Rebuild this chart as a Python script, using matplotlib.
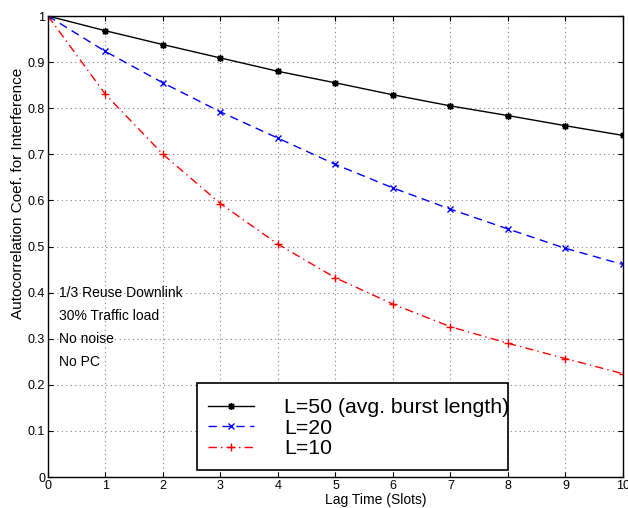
import matplotlib
matplotlib.use("Agg")
import matplotlib.pyplot as plt
from matplotlib.patches import Rectangle

plt.rcParams["font.family"] = ["Liberation Sans", "DejaVu Sans"]

LAG = [0, 1, 2, 3, 4, 5, 6, 7, 8, 9, 10]
L50 = [1.0, 0.968, 0.938, 0.909, 0.880, 0.855, 0.829, 0.805, 0.784, 0.762, 0.741]
L20 = [1.0, 0.923, 0.855, 0.792, 0.735, 0.678, 0.627, 0.581, 0.538, 0.496, 0.461]
L10 = [1.0, 0.830, 0.700, 0.593, 0.505, 0.432, 0.375, 0.326, 0.290, 0.257, 0.224]
LABELS = ["L=50 (avg. burst length)", "L=20", "L=10"]
NOTES = ["1/3 Reuse Downlink", "30% Traffic load", "No noise", "No PC"]

fig = plt.figure(figsize=(6.28, 5.08), dpi=100)
ax = fig.add_axes([0.0764, 0.061, 0.9156, 0.9075])

ax.plot(LAG, L50, color="black", linestyle="-", marker=(8, 2, 0), markersize=5,
        markeredgewidth=1.0, linewidth=1.0, label=LABELS[0])
ax.plot(LAG, L20, color="blue", linestyle=(0, (6, 4)), marker="x", markersize=4,
        linewidth=1.0, label=LABELS[1])
ax.plot(LAG, L10, color="red", linestyle=(0, (6, 3, 1, 3)), marker="+", markersize=6,
        linewidth=1.0, label=LABELS[2])

ax.set_xlim(0, 10)
ax.set_ylim(0, 1)
ax.set_xticks(range(0, 11))
ax.set_yticks([i / 10 for i in range(11)])
ax.set_yticklabels(["0", "0.1", "0.2", "0.3", "0.4", "0.5", "0.6", "0.7", "0.8", "0.9", "1"])
ax.tick_params(direction="in", labelsize=9, top=True, right=True, pad=2)
ax.grid(True, linestyle=(0, (1, 3)), color="gray", linewidth=0.8)
for s in ax.spines.values():
    s.set_linewidth(1.0)

ax.set_xlabel("Lag Time (Slots)", fontsize=10)
ax.xaxis.set_label_coords(0.57, -0.035)
ax.set_ylabel("Autocorrelation Coef. for Interference", fontsize=11)
ax.yaxis.set_label_coords(-0.04, 0.616)

for i, note in enumerate(NOTES):
    ax.text(0.2, 0.4 - i * 0.05, note, fontsize=10, va="center", ha="left")

# legend box (text runs slightly past the frame, as in the original)
ax.add_patch(Rectangle((2.59, 0.015), 5.41, 0.189, facecolor="white", edgecolor="black",
                       linewidth=1.2, zorder=4))
leg = ax.legend(loc="center left", bbox_to_anchor=(2.59, 0.106), bbox_transform=ax.transData,
                fontsize=15.3, frameon=False, handlelength=2.2, handletextpad=1.4,
                borderpad=0.5, labelspacing=0.08, borderaxespad=0)
leg.set_zorder(5)

fig.savefig("out.png", dpi=100)
